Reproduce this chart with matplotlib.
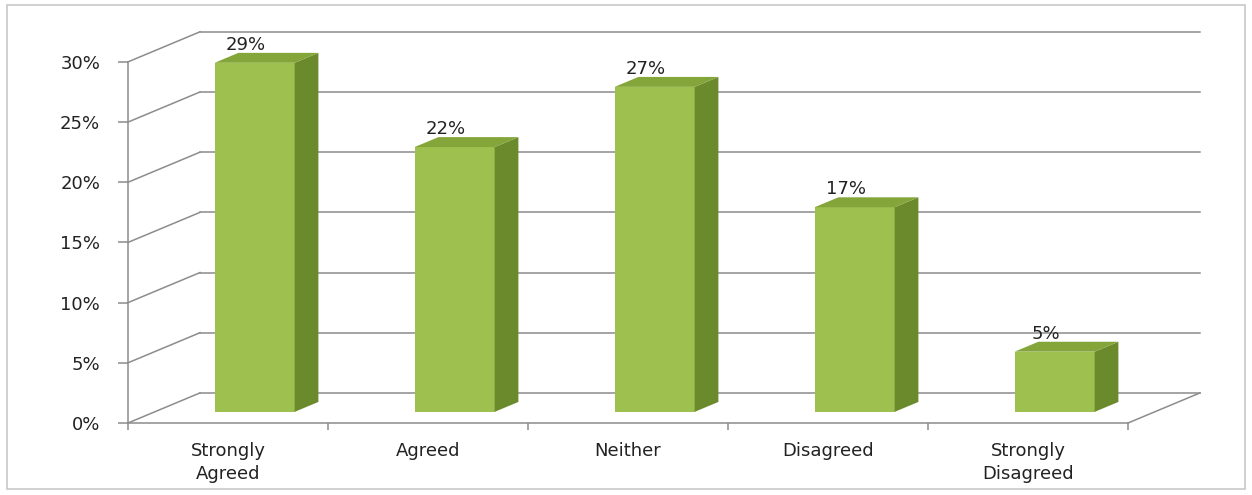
import matplotlib.pyplot as plt
from matplotlib.patches import Polygon, Rectangle

categories = ["Strongly\nAgreed", "Agreed", "Neither", "Disagreed", "Strongly\nDisagreed"]
values = [29, 22, 27, 17, 5]
labels = ["29%", "22%", "27%", "17%", "5%"]
yticks = [0, 5, 10, 15, 20, 25, 30]

# fake 3d: how far the back wall is shifted (x in category units, y in percent)
DX, DY = 0.36, 2.5
D0, D1 = 0.37, 0.70      # bar front / back depth
BW = 0.4
GRID = "#8c8c8c"
FRONT, SIDE, TOP = "#9dc04f", "#6a8a2b", "#83a53a"
TXT = "#222222"
FS = 13

fig = plt.figure(figsize=(12.52, 4.95), dpi=100)
ax = fig.add_axes([128/1252, 72/495, 1072/1252, 390/495])
n = len(values)
ax.set_xlim(0, n + DX)
ax.set_ylim(0, 32.4)

# gridlines: diagonal on the left wall then along the back wall
for t in yticks:
    ax.plot([0, DX], [t, t + DY], color=GRID, lw=1.1, zorder=1, clip_on=False)
    ax.plot([DX, n + DX], [t + DY, t + DY], color=GRID, lw=1.1, zorder=1, clip_on=False)
# floor right edge
ax.plot([n, n + DX], [0, DY], color=GRID, lw=1.1, zorder=1, clip_on=False)

dd = D1 - D0
for i, v in enumerate(values):
    xl = i + 0.5 - BW / 2 + D0 * DX
    xr = xl + BW
    b = D0 * DY
    t = v + D0 * DY
    ax.bar(xl, v, width=BW, bottom=b, align="edge", color=FRONT, edgecolor="none", zorder=3)
    ax.add_patch(Polygon([(xr, b), (xr + dd*DX, b + dd*DY), (xr + dd*DX, t + dd*DY), (xr, t)],
                         closed=True, facecolor=SIDE, edgecolor="none", zorder=3))
    ax.add_patch(Polygon([(xl, t), (xr, t), (xr + dd*DX, t + dd*DY), (xl + dd*DX, t + dd*DY)],
                         closed=True, facecolor=TOP, edgecolor="none", zorder=3, clip_on=False))
    ax.text(i + 0.59, v + 2.4, labels[i], ha="center", va="center", fontsize=FS, color=TXT,
            zorder=5, clip_on=False)

for s in ["top", "right"]:
    ax.spines[s].set_visible(False)
ax.spines["left"].set_bounds(0, 30)
ax.spines["bottom"].set_bounds(0, n)
for s in ["left", "bottom"]:
    ax.spines[s].set_color(GRID)
    ax.spines[s].set_linewidth(1.1)

ax.set_yticks(yticks)
ax.set_yticklabels([f"{t}%" for t in yticks])
ax.tick_params(axis="y", length=7, width=1.1, color=GRID, pad=13, labelsize=FS, labelcolor=TXT)
ax.set_xticks(range(n + 1))
ax.set_xticklabels([])
ax.tick_params(axis="x", which="major", length=5, width=1.1, color=GRID)
ax.set_xticks([i + 0.5 for i in range(n)], minor=True)
ax.set_xticklabels(categories, minor=True)
ax.tick_params(axis="x", which="minor", length=0, pad=14, labelsize=FS, labelcolor=TXT)
for lab in ax.get_xticklabels(minor=True):
    lab.set_linespacing(1.3)

# chart border
fig.patches.append(Rectangle((7/1252, 6/495), 1238/1252, 484/495, transform=fig.transFigure,
                             fill=False, edgecolor="#c8c8c8", lw=1.2))

fig.savefig("out.png", dpi=100)
